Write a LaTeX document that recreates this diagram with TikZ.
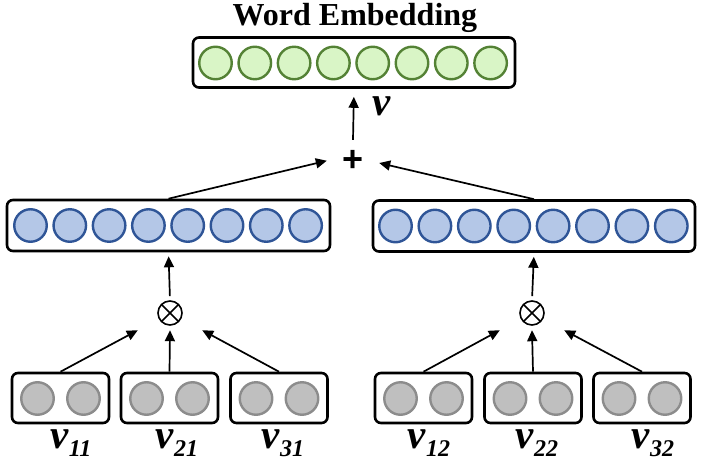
\documentclass[tikz,border=0pt]{standalone}
\usepackage{fontspec}
\setmainfont{Liberation Serif}
\newfontfamily\plusfont{Liberation Sans}
\usetikzlibrary{arrows.meta,calc}
\definecolor{gfill}{HTML}{D9F5C6}
\definecolor{gdraw}{HTML}{548235}
\definecolor{bfill}{HTML}{B4C7E7}
\definecolor{bdraw}{HTML}{2F5597}
\definecolor{sfill}{HTML}{BFBFBF}
\definecolor{sdraw}{HTML}{8C8C8C}
\tikzset{
  box/.style={draw=black, line width=2.6pt, rounded corners=6pt, fill=white, inner sep=0pt},
  bigbox/.style={box, minimum width=322pt, minimum height=50pt},
  smallbox/.style={box, minimum width=97pt, minimum height=50pt},
  unit/.style={circle, line width=2.4pt, minimum size=32.5pt, inner sep=0pt},
  gunit/.style={unit, draw=gdraw, fill=gfill},
  bunit/.style={unit, draw=bdraw, fill=bfill},
  sunit/.style={unit, draw=sdraw, fill=sfill},
  arr/.style={-{Triangle[length=11pt,width=10pt]}, line width=1.7pt},
  otimesnode/.style={circle, draw, line width=1.6pt, minimum size=24pt, inner sep=0pt,
    path picture={\draw[line width=1.6pt] (path picture bounding box.45) -- (path picture bounding box.225)
      (path picture bounding box.135) -- (path picture bounding box.315);}},
  inzone/.style={rectangle, minimum width=64pt, minimum height=34pt, inner sep=0pt},
  lab/.style={font=\bfseries\itshape\fontsize{41}{41}\selectfont, inner sep=0pt},
}
\newcommand{\vsub}[1]{v\raisebox{-8pt}{\fontsize{24}{24}\selectfont #1}}
\begin{document}
\begin{tikzpicture}[x=1pt,y=-1pt]
\useasboundingbox (0,0) rectangle (706,468);
% title
\node[font=\bfseries\fontsize{32}{32}\selectfont, inner sep=0pt] (title) at (355,18) {Word Embedding};
% top box
\node[bigbox] (top) at (354,62.5) {};
\foreach \i in {0,...,7} \node[gunit] (top-\i) at ({215.5+39.3*\i},63) {};
% blue boxes
\node[bigbox, minimum width=323pt, minimum height=51pt] (L) at (168.5,225.5) {};
\foreach \i in {0,...,7} \node[bunit] (L-\i) at ({30.5+39.3*\i},225.5) {};
\node[bigbox, minimum height=51pt] (R) at (534,226) {};
\foreach \i in {0,...,7} \node[bunit] (R-\i) at ({395.5+39.4*\i},226) {};
% plus
\node[minimum width=52pt, minimum height=46pt, inner sep=0pt] (plus) at (353,163) {};
\node[font=\plusfont\bfseries\fontsize{36}{36}\selectfont, inner sep=0pt] (plussign) at (353,161) {+};
\node[lab] (v) at (382,106) {v};
% otimes
\node[otimesnode] (oxl) at (170,313) {};
\node[inzone] (oxlin) at (170,313) {};
\node[otimesnode] (oxr) at (532,313) {};
\node[inzone] (oxrin) at (532,313) {};
% small boxes
\foreach \n/\x in {l1/60.5, l2/169.5, l3/279, r1/423.5, r2/533, r3/642} {
  \node[smallbox] (\n) at (\x,398) {};
  \node[sunit] (\n-a) at (\x-23,398.5) {};
  \node[sunit] (\n-b) at (\x+23,398.5) {};
}
% labels
\node[lab] (t11) at (71,443) {\vsub{11}};
\node[lab] (t21) at (177,443) {\vsub{21}};
\node[lab] (t31) at (283,443) {\vsub{31}};
\node[lab] (t12) at (429,443) {\vsub{12}};
\node[lab] (t22) at (537,443) {\vsub{22}};
\node[lab] (t32) at (653,443) {\vsub{32}};
% arrows
\draw[arr, shorten >=8pt] (plus.north) -- (top.south);
\draw[arr] (L.north) -- (plus.175);
\draw[arr] (R.north) -- (plus.east);
\draw[arr, shorten <=4pt, shorten >=4pt] (oxl.north) -- (L.south);
\draw[arr, shorten <=4pt, shorten >=4pt] (oxr.north) -- (R.south);
\draw[arr] (l1.north) -- (oxlin.south west);
\draw[arr] (l2.north) -- (oxlin.south);
\draw[arr] (l3.north) -- (oxlin.south east);
\draw[arr] (r1.north) -- (oxrin.south west);
\draw[arr] (r2.north) -- (oxrin.south);
\draw[arr] (r3.north) -- (oxrin.south east);
\end{tikzpicture}
\end{document}
